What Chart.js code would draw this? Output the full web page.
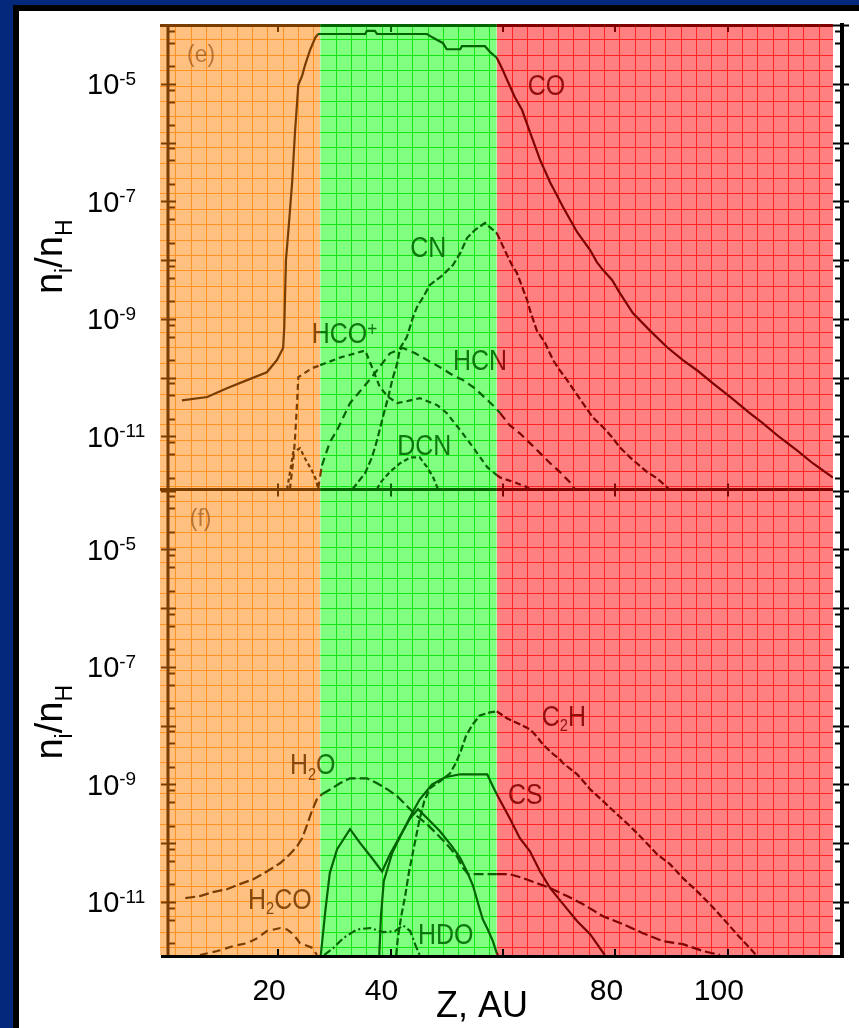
<!DOCTYPE html>
<html>
<head>
<meta charset="utf-8">
<title>n_i/n_H vs Z</title>
<script src="https://cdn.jsdelivr.net/npm/chart.js@4.4.1/dist/chart.umd.min.js"></script>
<style>
  html, body { margin: 0; padding: 0; }
  body { width: 859px; height: 1028px; background: #04297a; position: relative; overflow: hidden; }
  #frame { position: absolute; left: 13px; top: 5px; width: 846px; height: 1023px; background: #000; }
  #paper { position: absolute; left: 19px; top: 11px; width: 840px; height: 1017px; background: #fff; }
  canvas { position: absolute; left: 0; top: 0; }
</style>
</head>
<body>
<div id="frame"></div>
<div id="paper"></div>
<canvas id="chart" width="859" height="1028"></canvas>
<script>
// Z in AU, abundances n_i/n_H
var zMin = -1, zMax = 118.7;
var nMin = 1.25e-12, nMax = 1.05e-4;
var zoneEdges = [-1, 27.5, 58.9, 118.7];
var zTicks = [20, 40, 60, 80, 100];
var zTickLabels = [20, 40, 80, 100];
var nTickLabels = [1e-5, 1e-7, 1e-9, 1e-11];

// panel (e)
var zCO = [2.9, 7.4, 10.9, 14.5, 18.0, 19.8, 20.9, 21.1, 21.4, 21.8, 22.5, 23.0, 23.6, 24.3, 24.8, 25.7, 26.6, 27.1, 35.5, 35.8, 37.2, 37.6, 46.5, 47.0, 48.3, 49.3, 50.0, 52.4, 52.7, 56.8, 57.7, 58.9, 59.8, 60.9, 62.1, 63.4, 64.8, 66.6, 68.4, 70.7, 73.2, 75.5, 76.7, 77.8, 79.4, 80.8, 83.1, 86.1, 89.2, 92.0, 94.5, 97.3, 100.4, 103.9, 106.2, 109.2, 112.3, 115.1, 118.7];
var nCO = [4.1e-11, 4.7e-11, 6.6e-11, 9.1e-11, 1.24e-10, 2.0e-10, 3.2e-10, 7.2e-10, 1.0e-8, 2.9e-8, 2.1e-7, 1.46e-6, 9.6e-6, 1.4e-5, 2.1e-5, 3.8e-5, 6.1e-5, 7.1e-5, 7.1e-5, 8.0e-5, 8.0e-5, 7.1e-5, 7.1e-5, 6.6e-5, 5.6e-5, 5.0e-5, 3.9e-5, 3.9e-5, 4.4e-5, 4.4e-5, 3.5e-5, 2.8e-5, 1.87e-5, 1.08e-5, 6.0e-6, 3.6e-6, 1.52e-6, 5.1e-7, 2.1e-7, 8.0e-8, 3.0e-8, 1.49e-8, 9.3e-9, 6.8e-9, 4.6e-9, 2.75e-9, 1.26e-9, 6.4e-10, 3.3e-10, 2.0e-10, 1.34e-10, 8.1e-11, 4.7e-11, 2.5e-11, 1.68e-11, 9.7e-12, 5.8e-12, 3.5e-12, 2.0e-12];

var zCN = [33.2, 35.5, 36.7, 37.6, 38.5, 39.6, 40.3, 41.2, 41.7, 42.9, 44.0, 44.7, 45.8, 47.0, 49.3, 51.1, 52.4, 53.6, 55.0, 56.8, 58.9, 60.9, 61.6, 62.5, 64.3, 64.8, 66.0, 67.5, 68.9, 70.1, 71.4, 72.4, 74.2, 76.0, 77.8, 79.4, 80.8, 82.6, 83.8, 85.6, 87.4, 89.2, 89.5];
var nCN = [1.25e-12, 2.4e-12, 4.4e-12, 8.6e-12, 1.89e-11, 4.7e-11, 9.1e-11, 1.77e-10, 3.2e-10, 4.9e-10, 1.07e-9, 1.59e-9, 2.35e-9, 3.8e-9, 5.6e-9, 8.3e-9, 1.32e-8, 2.38e-8, 3.26e-8, 4.3e-8, 2.9e-8, 1.13e-8, 8.3e-9, 6.0e-9, 2.1e-9, 1.41e-9, 6.4e-10, 3.9e-10, 2.0e-10, 1.34e-10, 9.1e-11, 6.6e-11, 3.7e-11, 2.1e-11, 1.44e-11, 9.7e-12, 6.5e-12, 4.4e-12, 3.5e-12, 2.5e-12, 1.94e-12, 1.37e-12, 1.25e-12];

var zHCOp = [22.1, 22.7, 23.0, 23.4, 23.6, 26.0, 27.5, 31.0, 35.5, 36.7, 38.1, 39.6, 41.2, 43.5, 45.2, 48.3, 50.0, 52.4, 54.7, 57.2, 58.9, 59.5, 62.5, 64.3, 64.8];
var nHCOp = [1.25e-12, 3.9e-12, 8.6e-12, 4.1e-11, 1.02e-10, 1.45e-10, 1.63e-10, 2.2e-10, 2.9e-10, 1.51e-10, 6.9e-11, 4.7e-11, 3.7e-11, 4.1e-11, 4.5e-11, 3.4e-11, 2.5e-11, 1.28e-11, 6.5e-12, 3.0e-12, 2.2e-12, 2.0e-12, 1.6e-12, 1.37e-12, 1.25e-12];

var zSpikeE = [21.6, 22.1, 22.7, 23.9, 24.8, 26.0, 26.8, 27.1];
var nSpikeE = [1.25e-12, 2.4e-12, 5.4e-12, 6.3e-12, 4.2e-12, 2.65e-12, 1.79e-12, 1.25e-12];

var zHCN = [27.1, 27.8, 29.2, 30.5, 32.8, 35.8, 37.2, 39.9, 42.2, 44.4, 46.5, 48.8, 51.1, 52.9, 55.0, 58.2, 59.5, 61.2, 63.0, 64.8, 66.6, 68.4, 70.1, 71.9, 72.8];
var nHCN = [1.25e-12, 3.2e-12, 7.96e-12, 1.28e-11, 3.7e-11, 8.1e-11, 1.19e-10, 2.6e-10, 3.2e-10, 2.6e-10, 2.0e-10, 1.51e-10, 1.1e-10, 9.1e-11, 6.6e-11, 3.4e-11, 2.5e-11, 1.55e-11, 1.13e-11, 7.7e-12, 5.2e-12, 3.5e-12, 2.5e-12, 1.66e-12, 1.25e-12];

var zDCN = [37.6, 38.1, 39.9, 41.7, 43.5, 45.2, 46.5, 47.6, 48.3, 48.4];
var nDCN = [1.25e-12, 1.6e-12, 2.5e-12, 3.5e-12, 4.4e-12, 4.4e-12, 3.0e-12, 2.0e-12, 1.37e-12, 1.25e-12];

// panel (f)
var zH2O = [3.5, 6.1, 8.4, 10.9, 13.2, 15.6, 18.0, 20.4, 22.1, 23.4, 24.3, 25.2, 26.0, 26.9, 27.8, 29.6, 31.0, 32.8, 35.8, 37.6, 39.4, 41.2, 42.9, 44.7, 46.5, 48.3, 50.0, 51.8, 52.9, 53.8, 57.7, 58.9, 61.2, 63.6, 66.0, 68.4, 71.4, 74.2, 77.8, 81.3, 84.9, 88.4, 92.0, 95.6, 98.6];
var nH2O = [1.16e-11, 1.26e-11, 1.47e-11, 1.65e-11, 2.01e-11, 2.44e-11, 3.3e-11, 4.6e-11, 6.5e-11, 8.9e-11, 1.22e-10, 2.1e-10, 3.5e-10, 5.6e-10, 6.8e-10, 8.6e-10, 1.05e-9, 1.27e-9, 1.27e-9, 1.05e-9, 8.3e-10, 6.3e-10, 4.3e-10, 2.9e-10, 2.1e-10, 1.42e-10, 9.6e-11, 6.0e-11, 3.8e-11, 2.97e-11, 2.97e-11, 2.97e-11, 2.97e-11, 2.54e-11, 2.09e-11, 1.72e-11, 1.26e-11, 9.2e-12, 5.7e-12, 4.2e-12, 2.94e-12, 2.15e-12, 1.91e-12, 1.46e-12, 1.25e-12];

var zCS = [38.0, 38.3, 38.8, 40.3, 42.0, 43.8, 45.2, 47.4, 49.7, 52.4, 57.2, 58.2, 58.9, 61.2, 63.0, 64.8, 66.6, 68.4, 70.7, 73.2, 75.5, 78.1];
var nCS = [1.25e-12, 5.7e-12, 2.26e-11, 6.8e-11, 1.48e-10, 3.2e-10, 5.6e-10, 1.0e-9, 1.33e-9, 1.49e-9, 1.49e-9, 9.3e-10, 6.8e-10, 2.66e-10, 1.22e-10, 7.3e-11, 3.3e-11, 1.72e-11, 9.2e-12, 4.7e-12, 2.83e-12, 1.25e-12];

var zPeakF = [27.6, 28.4, 29.2, 30.5, 32.8, 34.6, 36.7, 38.5, 39.9, 41.7, 43.5, 44.9, 46.7, 48.8, 50.9, 52.4, 53.6, 54.7, 55.6, 56.4, 57.3, 58.2, 58.9, 59.1];
var nPeakF = [1.25e-12, 7.0e-12, 3.1e-11, 7.9e-11, 1.73e-10, 1.0e-10, 5.6e-11, 3.3e-11, 6.5e-11, 1.32e-10, 2.66e-10, 3.8e-10, 2.56e-10, 1.6e-10, 8.9e-11, 5.6e-11, 3.3e-11, 1.86e-11, 9.2e-12, 5.1e-12, 3.4e-12, 2.15e-12, 1.35e-12, 1.25e-12];

var zC2H = [41.0, 41.3, 41.9, 42.6, 43.3, 44.2, 45.1, 46.0, 47.0, 48.8, 50.6, 51.6, 52.5, 53.4, 54.5, 55.9, 57.7, 58.9, 60.7, 61.8, 63.0, 64.8, 66.0, 67.1, 68.9, 70.1, 70.7, 73.2, 75.5, 77.8, 80.3, 82.6, 84.9, 87.4, 89.7, 92.0, 94.5, 96.8, 99.1, 101.6, 103.9, 105.0];
var nC2H = [1.25e-12, 2.42e-12, 5.7e-12, 1.26e-11, 3.3e-11, 8.9e-11, 2.37e-10, 5.2e-10, 8.6e-10, 1.13e-9, 1.55e-9, 2.3e-9, 3.7e-9, 6.6e-9, 1.02e-8, 1.5e-8, 1.69e-8, 1.76e-8, 1.34e-8, 1.19e-8, 1.06e-8, 8.7e-9, 6.6e-9, 4.8e-9, 3.3e-9, 2.7e-9, 2.3e-9, 1.49e-9, 8.3e-10, 5.2e-10, 3.1e-10, 1.95e-10, 1.17e-10, 6.5e-11, 4.4e-11, 2.54e-11, 1.53e-11, 9.2e-12, 5.3e-12, 2.83e-12, 1.64e-12, 1.25e-12];

var zH2CO = [6.1, 9.2, 12.0, 14.5, 16.3, 18.0, 20.4, 21.6, 22.7, 23.9, 26.2, 26.9];
var nH2CO = [1.25e-12, 1.46e-12, 1.77e-12, 1.99e-12, 2.42e-12, 3.2e-12, 3.6e-12, 3.4e-12, 2.83e-12, 1.99e-12, 1.64e-12, 1.25e-12];

var zHDO = [28.2, 29.8, 31.6, 34.0, 36.4, 38.7, 40.8, 42.2, 43.5, 44.5, 45.2];
var nHDO = [1.25e-12, 1.64e-12, 2.42e-12, 3.4e-12, 3.6e-12, 3.06e-12, 3.2e-12, 4.0e-12, 3.2e-12, 1.77e-12, 1.25e-12];

// species names, placed in data coordinates ('_' subscript, '^' superscript)
var speciesTags = [
  { text: 'CO', z: 64.4, n: 6.5e-6, axis: 'yTop' },
  { text: 'CN', z: 43.5, n: 1.13e-8, axis: 'yTop' },
  { text: 'HCO^+', z: 26.0, n: 3.9e-10, axis: 'yTop' },
  { text: 'HCN', z: 51.1, n: 1.34e-10, axis: 'yTop' },
  { text: 'DCN', z: 41.2, n: 4.8e-12, axis: 'yTop' },
  { text: 'C_2H', z: 66.9, n: 9.8e-9, axis: 'yBot' },
  { text: 'H_2O', z: 22.1, n: 1.49e-9, axis: 'yBot' },
  { text: 'CS', z: 60.9, n: 4.6e-10, axis: 'yBot' },
  { text: 'H_2CO', z: 14.65, n: 7.55e-12, axis: 'yBot' },
  { text: 'HDO', z: 44.9, n: 1.91e-12, axis: 'yBot' }
];
var panelTags = [
  { text: '(e)', z: 3.8, n: 2.37e-5, axis: 'yTop' },
  { text: '(f)', z: 4.3, n: 2.56e-5, axis: 'yBot' }
];

var FONT = '"Liberation Sans", Arial, Helvetica, sans-serif';
var zones = [
  { fill: '#ffc080', grid: '#ff9222', ink: '#7a3d00', text: 'rgba(122,61,0,0.9)' },
  { fill: '#80ff80', grid: '#14e414', ink: '#006400', text: 'rgba(0,105,0,0.9)' },
  { fill: '#ff8080', grid: '#ff2424', ink: '#800000', text: 'rgba(135,0,0,0.9)' }
];
var GRID_X = 15.33, GRID_Y = 15.4, GRID_Y0 = [15.4, 11.2];

function zoneAt(z) {
  for (var i = 0; i < zones.length; i++) {
    if (z < zoneEdges[i + 1]) return i;
  }
  return zones.length - 1;
}

function series(label, zs, ns, axis, dash) {
  return {
    label: label,
    data: zs.map(function(z, i) { return { x: z, y: ns[i] }; }),
    yAxisID: axis,
    borderWidth: 2.2,
    borderDash: dash || [],
    borderColor: '#000',
    pointRadius: 0,
    fill: false,
    tension: 0,
    segment: {
      borderColor: function(c) { return zones[zoneAt((c.p0.parsed.x + c.p1.parsed.x) / 2)].ink; }
    }
  };
}

function richParts(str, size, opt) {
  var parts = [];
  for (var i = 0; i < str.length; i++) {
    var c = str.charAt(i);
    if ((c === '_' || c === '^') && i + 1 < str.length) {
      parts.push({ t: str.charAt(i + 1), s: Math.round(size * (c === '_' ? opt.ratio : opt.supRatio || opt.ratio)), dy: c === '_' ? size * opt.sub : -size * opt.sup });
      i++;
    } else {
      parts.push({ t: c, s: size, dy: 0 });
    }
  }
  return parts;
}

function richWidth(ctx, parts) {
  var w = 0;
  parts.forEach(function(p) { ctx.font = p.s + 'px ' + FONT; w += ctx.measureText(p.t).width; });
  return w;
}

function drawRich(ctx, parts, x, y) {
  parts.forEach(function(p) {
    ctx.font = p.s + 'px ' + FONT;
    ctx.fillText(p.t, x, y + p.dy);
    x += ctx.measureText(p.t).width;
  });
}

function logTicks(min, max) {
  var major = [], minor = [];
  for (var k = -13; k <= -3; k++) {
    var d = Math.pow(10, k);
    if (d >= min && d <= max) major.push(d);
    [2, 5, 8].forEach(function(m) { var v = m * d; if (v >= min && v <= max) minor.push(v); });
  }
  return { major: major, minor: minor };
}

var panelDecor = {
  id: 'panelDecor',
  beforeDatasetsDraw: function(chart) {
    var ctx = chart.ctx, a = chart.chartArea, sx = chart.scales.x;
    var panels = [chart.scales.yTop, chart.scales.yBot];
    zones.forEach(function(zn, i) {
      var x0 = sx.getPixelForValue(zoneEdges[i]), x1 = sx.getPixelForValue(zoneEdges[i + 1]);
      ctx.save();
      ctx.beginPath();
      ctx.rect(x0, a.top, x1 - x0, a.bottom - a.top);
      ctx.clip();
      ctx.fillStyle = zn.fill;
      ctx.fillRect(x0, a.top, x1 - x0, a.bottom - a.top);
      ctx.strokeStyle = zn.grid;
      ctx.lineWidth = 1;
      ctx.beginPath();
      for (var gx = x0 + GRID_X; gx < x1 - 2; gx += GRID_X) {
        ctx.moveTo(Math.round(gx) + 0.5, a.top);
        ctx.lineTo(Math.round(gx) + 0.5, a.bottom);
      }
      panels.forEach(function(s, k) {
        for (var gy = s.top + GRID_Y0[k]; gy < s.bottom - 2; gy += GRID_Y) {
          ctx.moveTo(x0, Math.round(gy) + 0.5);
          ctx.lineTo(x1, Math.round(gy) + 0.5);
        }
      });
      ctx.stroke();
      ctx.restore();
    });
  },
  afterDatasetsDraw: function(chart) {
    var ctx = chart.ctx, a = chart.chartArea, sx = chart.scales.x;
    var panels = [chart.scales.yTop, chart.scales.yBot];
    var zx = zoneEdges.map(function(z) { return sx.getPixelForValue(z); });
    var divY = panels[0].bottom;
    ctx.save();

    // top border and panel divider, tinted zone by zone
    zones.forEach(function(zn, i) {
      ctx.strokeStyle = zn.ink;
      ctx.lineWidth = 3;
      ctx.beginPath();
      ctx.moveTo(zx[i], a.top + 1.5); ctx.lineTo(zx[i + 1], a.top + 1.5);
      ctx.moveTo(zx[i], divY); ctx.lineTo(zx[i + 1], divY);
      ctx.stroke();
    });

    // left axis (inside the orange zone) and right axis
    var leftX = a.left + 8, rightX = a.right + 9;
    ctx.strokeStyle = zones[0].ink;
    ctx.lineWidth = 3;
    ctx.beginPath(); ctx.moveTo(leftX, a.top); ctx.lineTo(leftX, a.bottom); ctx.stroke();
    ctx.strokeStyle = '#000';
    ctx.lineWidth = 4;
    ctx.beginPath(); ctx.moveTo(rightX, a.top - 1); ctx.lineTo(rightX, a.bottom + 3); ctx.stroke();

    var lt = logTicks(nMin, nMax);
    panels.forEach(function(s) {
      ctx.lineWidth = 2;
      lt.major.forEach(function(v) {
        var py = Math.round(s.getPixelForValue(v)) + 0.5;
        ctx.strokeStyle = zones[0].ink;
        ctx.beginPath(); ctx.moveTo(a.left + 1, py); ctx.lineTo(a.left + 16, py); ctx.stroke();
        ctx.strokeStyle = '#000';
        ctx.beginPath(); ctx.moveTo(a.right, py); ctx.lineTo(rightX + 7, py); ctx.stroke();
      });
      lt.minor.forEach(function(v) {
        var py = Math.round(s.getPixelForValue(v)) + 0.5;
        ctx.strokeStyle = zones[0].ink;
        ctx.beginPath(); ctx.moveTo(leftX, py); ctx.lineTo(a.left + 15, py); ctx.stroke();
        ctx.strokeStyle = '#000';
        ctx.beginPath(); ctx.moveTo(a.right + 2, py); ctx.lineTo(rightX, py); ctx.stroke();
      });
    });

    // bottom axis
    ctx.strokeStyle = '#000';
    ctx.lineWidth = 3;
    ctx.beginPath(); ctx.moveTo(a.left + 1, a.bottom + 1.5); ctx.lineTo(rightX + 2, a.bottom + 1.5); ctx.stroke();

    // x tick marks
    ctx.lineWidth = 2;
    zTicks.forEach(function(z) {
      var px = Math.round(sx.getPixelForValue(z));
      ctx.strokeStyle = zones[zoneAt(z)].ink;
      ctx.beginPath();
      ctx.moveTo(px, a.top); ctx.lineTo(px, a.top + 8);
      ctx.moveTo(px, divY - 6); ctx.lineTo(px, divY + 7);
      ctx.stroke();
      ctx.strokeStyle = '#000';
      ctx.beginPath(); ctx.moveTo(px, a.bottom - 6); ctx.lineTo(px, a.bottom); ctx.stroke();
    });

    // species names, coloured by the zone they sit in
    var tagOpt = { ratio: 0.6, supRatio: 0.7, sub: 0.18, sup: 0.25 };
    speciesTags.forEach(function(tag) {
      var px = sx.getPixelForValue(tag.z), py = chart.scales[tag.axis].getPixelForValue(tag.n);
      var parts = richParts(tag.text, 29, tagOpt);
      zones.forEach(function(zn, i) {
        ctx.save();
        ctx.beginPath(); ctx.rect(zx[i], a.top, zx[i + 1] - zx[i], a.bottom - a.top); ctx.clip();
        ctx.fillStyle = zn.text;
        ctx.textAlign = 'left'; ctx.textBaseline = 'alphabetic';
        ctx.translate(px, py); ctx.scale(0.86, 1);
        drawRich(ctx, parts, 0, 0);
        ctx.restore();
      });
    });
    panelTags.forEach(function(tag) {
      var px = sx.getPixelForValue(tag.z), py = chart.scales[tag.axis].getPixelForValue(tag.n);
      ctx.fillStyle = 'rgba(122,61,0,0.55)';
      ctx.textAlign = 'left'; ctx.textBaseline = 'alphabetic';
      ctx.font = '23px ' + FONT;
      ctx.fillText(tag.text, px, py);
    });

    // tick labels
    ctx.fillStyle = '#000';
    ctx.textBaseline = 'alphabetic';
    panels.forEach(function(s) {
      nTickLabels.forEach(function(v) {
        var py = s.getPixelForValue(v);
        ctx.textAlign = 'left';
        ctx.font = '29px ' + FONT;
        ctx.fillText('10', 87, py + 10.5);
        var w = ctx.measureText('10').width;
        ctx.font = '19px ' + FONT;
        ctx.fillText(String(Math.round(Math.log10(v))), 87 + w, py + 1);
      });
    });
    ctx.textAlign = 'center';
    ctx.font = '30px ' + FONT;
    zTickLabels.forEach(function(z) {
      ctx.fillText(String(z), sx.getPixelForValue(z) - 9, a.bottom + 45);
    });

    // axis titles
    ctx.font = '36px ' + FONT;
    ctx.fillText('Z, AU', 482, a.bottom + 62);
    var titleParts = richParts('n_i/n_H', 38, { ratio: 0.6, sub: 0.26, sup: 0.3 });
    var tw = richWidth(ctx, titleParts);
    panels.forEach(function(s) {
      ctx.save();
      ctx.translate(62, (s.top + s.bottom) / 2);
      ctx.rotate(-Math.PI / 2);
      ctx.textAlign = 'left';
      drawRich(ctx, titleParts, -tw / 2, 0);
      ctx.restore();
    });
    ctx.restore();
  }
};

var chart = new Chart(document.getElementById('chart'), {
  type: 'line',
  data: {
    datasets: [
      series('CO', zCO, nCO, 'yTop'),
      series('CN', zCN, nCN, 'yTop', [7, 3]),
      series('HCO+', zHCOp, nHCOp, 'yTop', [6, 4]),
      series('', zSpikeE, nSpikeE, 'yTop', [4, 3]),
      series('HCN', zHCN, nHCN, 'yTop', [8, 5]),
      series('DCN', zDCN, nDCN, 'yTop', [5, 3]),
      series('H2O', zH2O, nH2O, 'yBot', [10, 4]),
      series('CS', zCS, nCS, 'yBot'),
      series('', zPeakF, nPeakF, 'yBot'),
      series('C2H', zC2H, nC2H, 'yBot', [7, 3]),
      series('H2CO', zH2CO, nH2CO, 'yBot', [8, 5]),
      series('HDO', zHDO, nHDO, 'yBot', [8, 3, 2, 3])
    ]
  },
  options: {
    responsive: false,
    animation: false,
    events: [],
    layout: { padding: { left: 160, right: 26, top: 24, bottom: 73 } },
    plugins: { legend: { display: false }, tooltip: { enabled: false } },
    scales: {
      x: { type: 'linear', min: zMin, max: zMax, display: false },
      yTop: { type: 'logarithmic', position: 'left', stack: 'panels', stackWeight: 1, weight: 1, min: nMin, max: nMax, display: false },
      yBot: { type: 'logarithmic', position: 'left', stack: 'panels', stackWeight: 1, weight: 0, min: nMin, max: nMax, display: false }
    }
  },
  plugins: [panelDecor]
});
</script>
</body>
</html>
